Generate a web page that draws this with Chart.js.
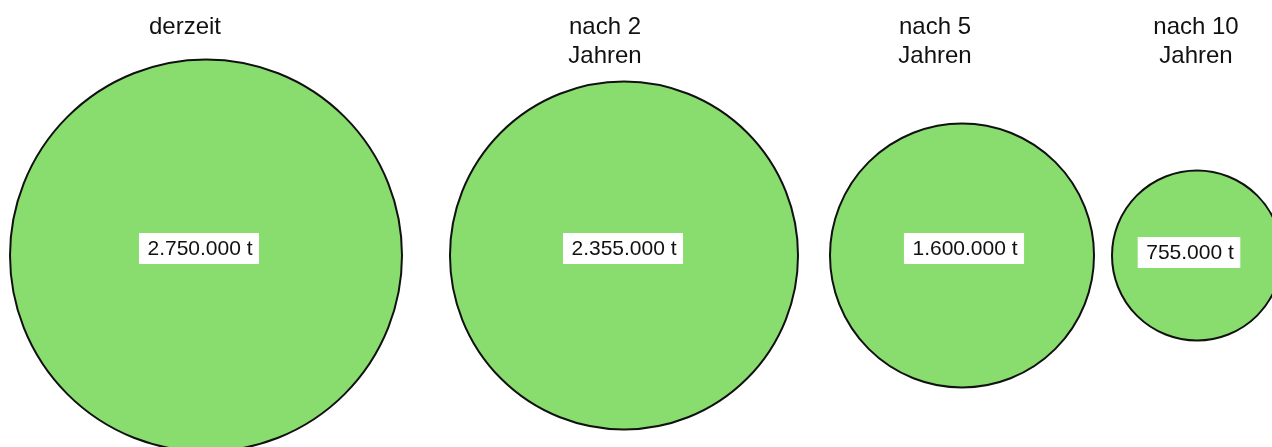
<!DOCTYPE html>
<html>
<head>
<meta charset="utf-8">
<title>Menge</title>
<script src="https://cdn.jsdelivr.net/npm/chart.js@4/dist/chart.umd.min.js"></script>
<style>
  html, body { margin: 0; padding: 0; background: #fff; }
  canvas { display: block; }
</style>
</head>
<body>
<canvas id="myChart" width="1272" height="447"></canvas>
<script>
// Data
let categories = [['derzeit'], ['nach 2', 'Jahren'], ['nach 5', 'Jahren'], ['nach 10', 'Jahren']];
let amounts = [2750000, 2355000, 1600000, 755000]; // tonnes
let xPos = [206, 624, 962, 1197]; // horizontal placement on a 0-1272 axis

// size scale: bubble radius grows linearly with the amount
let minR = 85;
let maxR = 196;
let minAmount = Math.min(...amounts);
let maxAmount = Math.max(...amounts);
function sizeFor(v) {
  return minR + (v - minAmount) / (maxAmount - minAmount) * (maxR - minR);
}

function formatTons(v) {
  return String(v).replace(/\B(?=(\d{3})+(?!\d))/g, '.') + ' t';
}

// small nudges so the labels sit like in the original
let titleShift = [-21, -19, -27, -1];
let boxShift = [-7, -1, 2, -8];
let boxLift = [-7, -7, -7, -3];

let labelPlugin = {
  id: 'bubbleLabels',
  afterDatasetsDraw(chart) {
    let ctx = chart.ctx;
    let meta = chart.getDatasetMeta(0);
    ctx.save();
    meta.data.forEach((el, i) => {
      // title above
      ctx.font = '24px "Liberation Sans", Arial, sans-serif';
      ctx.fillStyle = '#111';
      ctx.textAlign = 'center';
      ctx.textBaseline = 'alphabetic';
      categories[i].forEach((line, j) => {
        ctx.fillText(line, el.x + titleShift[i], 34 + j * 29);
      });

      // value box in the middle
      let txt = formatTons(amounts[i]);
      ctx.font = '21px "Liberation Sans", Arial, sans-serif';
      let w = ctx.measureText(txt).width + 15;
      let h = 31;
      let cx = el.x + boxShift[i];
      let cy = el.y + boxLift[i];
      ctx.fillStyle = '#fff';
      ctx.fillRect(cx - w / 2, cy - h / 2, w, h);
      ctx.fillStyle = '#111';
      ctx.textBaseline = 'middle';
      ctx.fillText(txt, cx + 1, cy + 1);
    });
    ctx.restore();
  }
};

function chartRender() {
  let ctx = document.getElementById('myChart').getContext('2d');
  // eslint-disable-next-line no-undef
  let myChart = new Chart(ctx, {
    type: 'bubble',
    data: {
      datasets: [{
        data: amounts.map((v, i) => ({ x: xPos[i], y: 0, r: sizeFor(v) })),
        backgroundColor: 'rgb(137, 221, 110)',
        borderColor: '#111',
        borderWidth: 2,
        clip: false
      }]
    },
    options: {
      responsive: false,
      devicePixelRatio: 1,
      animation: false,
      events: [],
      layout: {
        autoPadding: false,
        padding: { top: 64, left: 0, right: 0, bottom: 0 }
      },
      plugins: {
        legend: { display: false },
        tooltip: { enabled: false }
      },
      scales: {
        x: { type: 'linear', min: 0, max: 1272, display: false },
        y: { type: 'linear', min: -1, max: 1, display: false }
      }
    },
    plugins: [labelPlugin]
  });
}
chartRender();
</script>
</body>
</html>
